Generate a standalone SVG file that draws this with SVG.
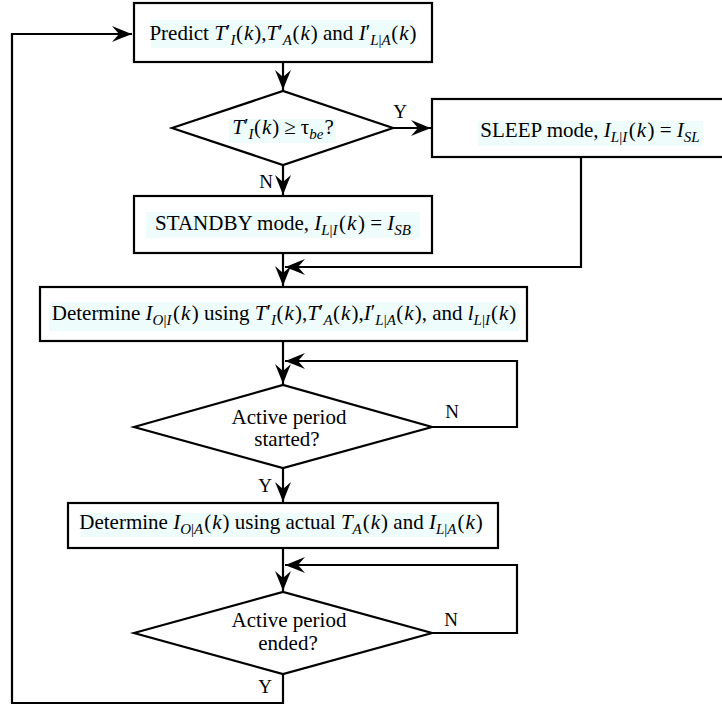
<svg xmlns="http://www.w3.org/2000/svg" width="722" height="707" viewBox="0 0 722 707">
<style>
.t{font-family:"Liberation Serif","Times New Roman",serif;font-size:21px;fill:#000}
.l{font-family:"Liberation Serif","Times New Roman",serif;font-size:19px;fill:#000}
.i{font-style:italic}
.s{font-size:15px}
.box{fill:#fff;stroke:#000;stroke-width:2.2}
.hl{fill:#effcfc}
.c{fill:none;stroke:#000;stroke-width:2.2}
</style>
<defs>
<marker id="ah" markerUnits="userSpaceOnUse" viewBox="-21 -9 22 18" markerWidth="22" markerHeight="18" refX="0" refY="0" orient="auto">
<path d="M0,0 Q-8,-3 -20,-8 L-13,0 L-20,8 Q-8,3 0,0 Z" fill="#000"/>
</marker>
</defs>

<g id="connectors">
<path class="c" d="M283,62 V90" marker-end="url(#ah)"/>
<path class="c" d="M393,128 H431" marker-end="url(#ah)"/>
<path class="c" d="M283,165 V195" marker-end="url(#ah)"/>
<path class="c" d="M581,157 V267 H285" marker-end="url(#ah)"/>
<path class="c" d="M283,253 V286" marker-end="url(#ah)"/>
<path class="c" d="M283,341 V384" marker-end="url(#ah)"/>
<path class="c" d="M432,427 H517 V361 H285" marker-end="url(#ah)"/>
<path class="c" d="M283,468 V502" marker-end="url(#ah)"/>
<path class="c" d="M283,548 V591" marker-end="url(#ah)"/>
<path class="c" d="M432,633 H517 V565 H285" marker-end="url(#ah)"/>
<path class="c" d="M283,674 V703 H12 V34 H132" marker-end="url(#ah)"/>
<text class="l" x="400" y="118" text-anchor="middle">Y</text>
<text class="l" x="266" y="188" text-anchor="middle">N</text>
<text class="l" x="452" y="418" text-anchor="middle">N</text>
<text class="l" x="265" y="492" text-anchor="middle">Y</text>
<text class="l" x="451" y="626" text-anchor="middle">N</text>
<text class="l" x="265" y="693" text-anchor="middle">Y</text>
</g>

<g id="predict">
<rect class="box" x="134" y="3" width="298" height="59"/>
<rect class="hl" x="151" y="20" width="263" height="28"/>
<text class="t" x="283" y="40" text-anchor="middle">Predict <tspan class="i">T</tspan><tspan dy="-1">′</tspan><tspan class="i s" dy="6">I</tspan><tspan dx="0.5" dy="-5">(</tspan><tspan class="i" dx="1">k</tspan><tspan dx="1">),</tspan><tspan class="i">T</tspan><tspan dy="-1">′</tspan><tspan class="i s" dy="6">A</tspan><tspan dx="0.5" dy="-5">(</tspan><tspan class="i" dx="1">k</tspan><tspan dx="1">) and </tspan><tspan class="i">I</tspan><tspan dy="-1">′</tspan><tspan class="i s" dy="6">L</tspan><tspan class="s">|</tspan><tspan class="i s">A</tspan><tspan dx="0.5" dy="-5">(</tspan><tspan class="i" dx="1">k</tspan><tspan dx="1">)</tspan></text>
</g>

<g id="decision1">
<polygon class="box" points="172,128 283,91 393,128 283,165"/>
<rect class="hl" x="229" y="119" width="107" height="24"/>
<text class="t" x="283" y="134" text-anchor="middle"><tspan class="i">T</tspan><tspan dy="-1">′</tspan><tspan class="i s" dy="6">I</tspan><tspan dx="0.5" dy="-5">(</tspan><tspan class="i" dx="1">k</tspan><tspan dx="1">)</tspan><tspan dx="5">≥</tspan><tspan dx="5">τ</tspan><tspan class="i s" dy="5">be</tspan><tspan dx="1" dy="-5">?</tspan></text>
</g>

<g id="sleep">
<rect class="box" x="432" y="99" width="310" height="58"/>
<rect class="hl" x="478" y="121" width="225" height="25"/>
<text class="t" x="590" y="137" text-anchor="middle">SLEEP mode, <tspan class="i">I</tspan><tspan class="i s" dy="5">L</tspan><tspan class="s">|</tspan><tspan class="i s">I</tspan><tspan dx="1.5" dy="-5">(</tspan><tspan class="i" dx="1">k</tspan><tspan dx="1.5">) = </tspan><tspan class="i">I</tspan><tspan class="i s" dy="5">SL</tspan></text>
</g>

<g id="standby">
<rect class="box" x="134" y="196" width="298" height="57"/>
<rect class="hl" x="146" y="212" width="274" height="26"/>
<text class="t" x="283" y="230" text-anchor="middle">STANDBY mode, <tspan class="i">I</tspan><tspan class="i s" dy="5">L</tspan><tspan class="s">|</tspan><tspan class="i s">I</tspan><tspan dx="1.5" dy="-5">(</tspan><tspan class="i" dx="1">k</tspan><tspan dx="1.5">) = </tspan><tspan class="i">I</tspan><tspan class="i s" dy="5">SB</tspan></text>
</g>

<g id="determine1">
<rect class="box" x="40" y="287" width="487" height="54"/>
<rect class="hl" x="49" y="302" width="470" height="29"/>
<text class="t" x="284" y="320" text-anchor="middle">Determine <tspan class="i">I</tspan><tspan class="i s" dy="5">O</tspan><tspan class="s">|</tspan><tspan class="i s">I</tspan><tspan dx="1.5" dy="-5">(</tspan><tspan class="i" dx="1">k</tspan><tspan dx="1.5">) using </tspan><tspan class="i">T</tspan><tspan dy="-1">′</tspan><tspan class="i s" dy="6">I</tspan><tspan dx="0.5" dy="-5">(</tspan><tspan class="i" dx="1">k</tspan><tspan dx="1">),</tspan><tspan class="i">T</tspan><tspan dy="-1">′</tspan><tspan class="i s" dy="6">A</tspan><tspan dx="0.5" dy="-5">(</tspan><tspan class="i" dx="1">k</tspan><tspan dx="1">),</tspan><tspan class="i">I</tspan><tspan dy="-1">′</tspan><tspan class="i s" dy="6">L</tspan><tspan class="s">|</tspan><tspan class="i s">A</tspan><tspan dx="0.5" dy="-5">(</tspan><tspan class="i" dx="1">k</tspan><tspan dx="1">), and </tspan><tspan class="i">l</tspan><tspan class="i s" dy="5">L</tspan><tspan class="s">|</tspan><tspan class="i s">I</tspan><tspan dx="1" dy="-5">(</tspan><tspan class="i" dx="1">k</tspan><tspan dx="1">)</tspan></text>
</g>

<g id="decision2">
<polygon class="box" points="134,427 283,385 432,427 283,468"/>
<text class="t" x="289" y="424" text-anchor="middle">Active period</text>
<text class="t" x="287" y="446" text-anchor="middle">started?</text>
</g>

<g id="determine2">
<rect class="box" x="68" y="503" width="430" height="45"/>
<rect class="hl" x="81" y="513" width="399" height="24"/>
<text class="t" x="281" y="529" text-anchor="middle">Determine <tspan class="i">I</tspan><tspan class="i s" dy="5">O</tspan><tspan class="s">|</tspan><tspan class="i s">A</tspan><tspan dx="1" dy="-5">(</tspan><tspan class="i" dx="1">k</tspan><tspan dx="1">) using actual </tspan><tspan class="i">T</tspan><tspan class="i s" dy="5">A</tspan><tspan dx="1" dy="-5">(</tspan><tspan class="i" dx="1">k</tspan><tspan dx="1">) and </tspan><tspan class="i">I</tspan><tspan class="i s" dy="5">L</tspan><tspan class="s">|</tspan><tspan class="i s">A</tspan><tspan dx="1" dy="-5">(</tspan><tspan class="i" dx="1">k</tspan><tspan dx="1">)</tspan></text>
</g>

<g id="decision3">
<polygon class="box" points="134,633 283,592 432,633 283,674"/>
<text class="t" x="289" y="627" text-anchor="middle">Active period</text>
<text class="t" x="288" y="650" text-anchor="middle">ended?</text>
</g>
</svg>
